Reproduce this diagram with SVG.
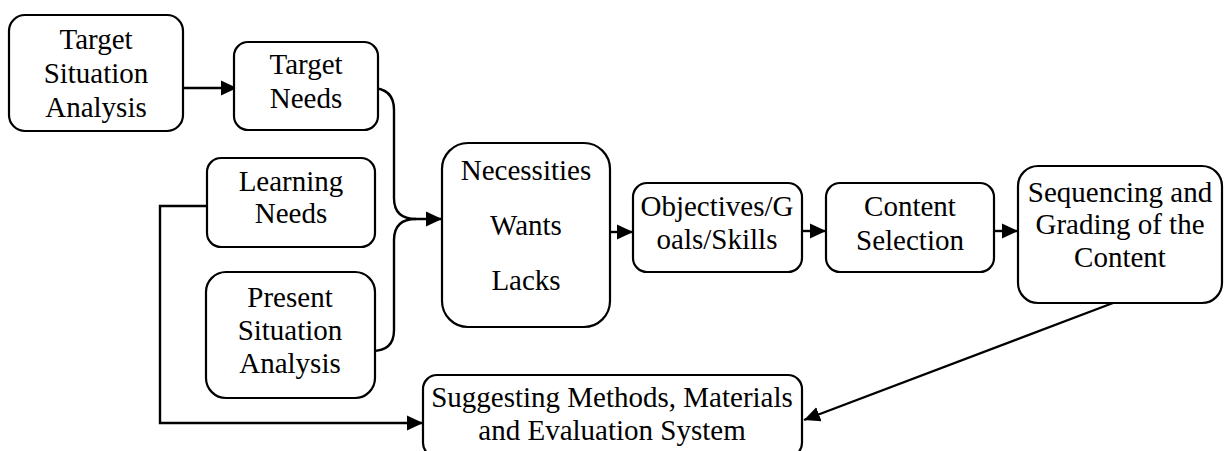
<svg xmlns="http://www.w3.org/2000/svg" width="1224" height="451" viewBox="0 0 1224 451">
  <style>
    .box { fill: #ffffff; stroke: #000000; stroke-width: 2.2; }
    .label { font-family: "Liberation Serif", "Times New Roman", serif; font-size: 29px; fill: #000000; text-anchor: middle; }
    .wire { fill: none; stroke: #000000; stroke-width: 2.4; }
  </style>
  <defs>
    <marker id="arrow" markerUnits="userSpaceOnUse" markerWidth="17" markerHeight="16" refX="16" refY="8" orient="auto">
      <path d="M0,0.5 L16,8 L0,15.5 z" fill="#000000"/>
    </marker>
  </defs>
  <rect width="1224" height="451" fill="#ffffff"/>

  <g id="connectors">
    <path class="wire" d="M183,88 H237" marker-end="url(#arrow)"/>
    <path class="wire" d="M371,88 Q394,88 394,110 V198 Q394,219 416,219 H442" marker-end="url(#arrow)"/>
    <path class="wire" d="M372,351 Q394,351 394,330 V240 Q394,219 416,219"/>
    <path class="wire" d="M207,206 H160 V423 H423" marker-end="url(#arrow)"/>
    <path class="wire" d="M610,232 H633" marker-end="url(#arrow)"/>
    <path class="wire" d="M802,231 H826" marker-end="url(#arrow)"/>
    <path class="wire" d="M994,231 H1018" marker-end="url(#arrow)"/>
    <path class="wire" d="M1113,303 L804,420" marker-end="url(#arrow)"/>
  </g>

  <g id="target-situation-analysis">
    <rect class="box" x="9" y="15" width="174" height="116" rx="16"/>
    <text class="label" x="96" y="49">Target</text>
    <text class="label" x="96" y="83">Situation</text>
    <text class="label" x="96" y="117">Analysis</text>
  </g>

  <g id="target-needs">
    <rect class="box" x="234" y="42" width="144" height="88" rx="14"/>
    <text class="label" x="306" y="74">Target</text>
    <text class="label" x="306" y="108">Needs</text>
  </g>

  <g id="learning-needs">
    <rect class="box" x="207" y="158" width="168" height="89" rx="14"/>
    <text class="label" x="291" y="191">Learning</text>
    <text class="label" x="291" y="223">Needs</text>
  </g>

  <g id="present-situation-analysis">
    <rect class="box" x="206" y="272" width="169" height="126" rx="20"/>
    <text class="label" x="290" y="307">Present</text>
    <text class="label" x="290" y="340">Situation</text>
    <text class="label" x="290" y="373">Analysis</text>
  </g>

  <g id="necessities-wants-lacks">
    <rect class="box" x="442" y="143" width="168" height="184" rx="26"/>
    <text class="label" x="526" y="180">Necessities</text>
    <text class="label" x="526" y="235">Wants</text>
    <text class="label" x="526" y="290">Lacks</text>
  </g>

  <g id="objectives">
    <rect class="box" x="633" y="183" width="169" height="89" rx="14"/>
    <text class="label" x="717" y="216">Objectives/G</text>
    <text class="label" x="717" y="249">oals/Skills</text>
  </g>

  <g id="content-selection">
    <rect class="box" x="826" y="183" width="168" height="89" rx="14"/>
    <text class="label" x="910" y="216">Content</text>
    <text class="label" x="910" y="250">Selection</text>
  </g>

  <g id="sequencing-grading">
    <rect class="box" x="1018" y="166" width="204" height="137" rx="20"/>
    <text class="label" x="1120" y="202">Sequencing and</text>
    <text class="label" x="1120" y="234">Grading of the</text>
    <text class="label" x="1120" y="267">Content</text>
  </g>

  <g id="methods-materials-evaluation">
    <rect class="box" x="423" y="375" width="379" height="82" rx="14"/>
    <text class="label" x="612" y="407">Suggesting Methods, Materials</text>
    <text class="label" x="612" y="440">and Evaluation System</text>
  </g>
</svg>
